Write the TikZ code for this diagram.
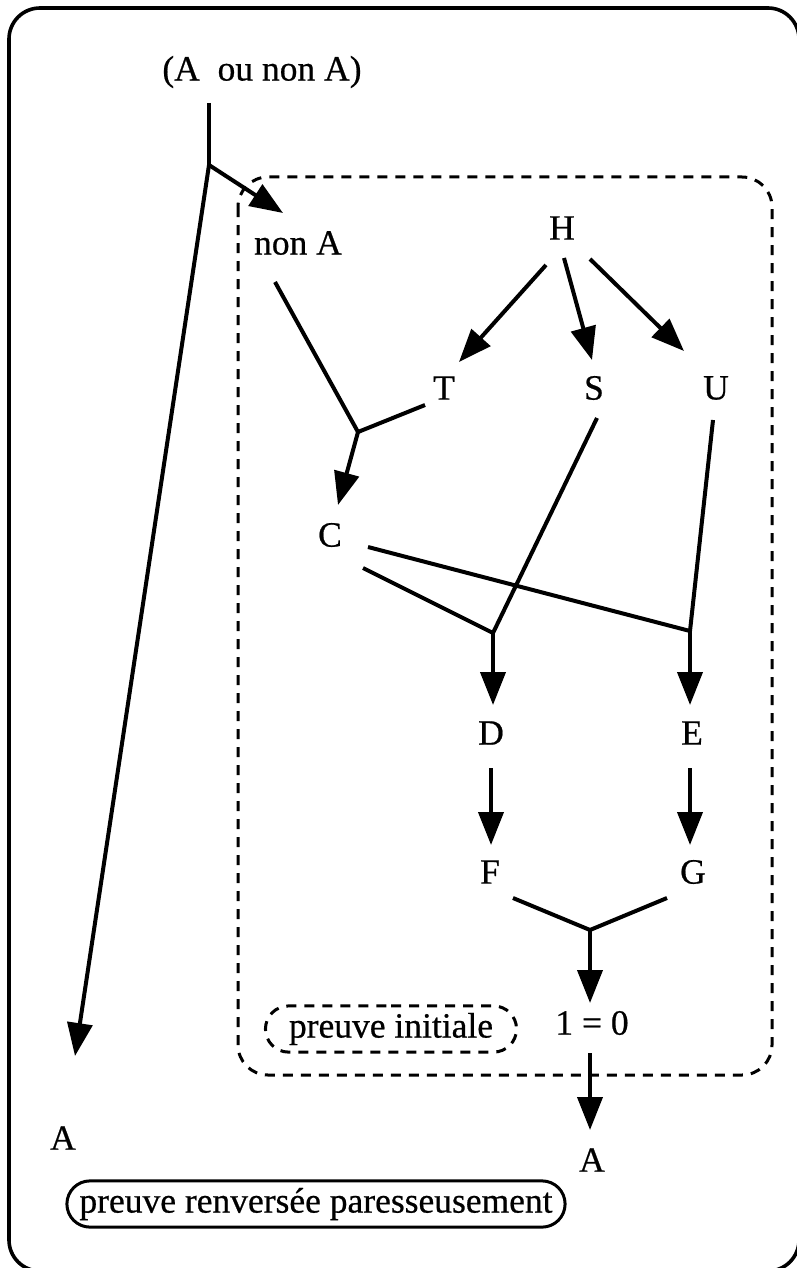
\documentclass[tikz,border=0pt]{standalone}
\usepackage{fontspec}
\setmainfont[FakeBold=0.6]{Liberation Serif}
\usetikzlibrary{arrows.meta,shapes.misc}
\begin{document}
\begin{tikzpicture}[x=1pt,y=-1pt,
  lbl/.style={font=\fontsize{35.5}{38}\selectfont, inner sep=0pt},
  link/.style={line width=4pt, line join=miter},
  arr/.style={link, -{Triangle[length=33pt,width=25pt]}},
  frame/.style={line width=3.6pt, rounded corners=31pt},
  zone/.style={line width=3pt, dash pattern=on 10pt off 8pt, rounded corners=30pt},
  tag/.style={lbl, draw, rounded rectangle, line width=3pt, inner ysep=7pt}]
\useasboundingbox (0,0) rectangle (797,1268);

% outer frame and the dashed zone of the initial proof
\draw[frame] (9,8) rectangle (799,1271);
\draw[zone] (238,177) rectangle (772,1075);

% formulas
\node[lbl] (top)  at (262,72)   {(A\ \ ou non A)};
\node[lbl] (nona) at (298,243)  {non A};
\node[lbl] (h)    at (562,228)  {H};
\node[lbl] (t)    at (444,388)  {T};
\node[lbl] (s)    at (594,388)  {S};
\node[lbl] (u)    at (716,388)  {U};
\node[lbl] (c)    at (330,535)  {C};
\node[lbl] (d)    at (491,733)  {D};
\node[lbl] (e)    at (692,733)  {E};
\node[lbl] (f)    at (490,872)  {F};
\node[lbl] (g)    at (693,872)  {G};
\node[lbl] (one)  at (592,1023) {1 = 0};
\node[lbl] (al)   at (63,1138)  {A};
\node[lbl] (ar)   at (592,1160) {A};

% captions
\node[tag, dash pattern=on 10pt off 8pt, inner xsep=17pt] (ini) at (391,1029) {preuve initiale};
\node[tag, inner xsep=6pt] (rev) at (316,1204) {preuve renvers\'ee paresseusement};

% junctions of the inference steps
\coordinate (j0) at (209,165);
\coordinate (j1) at (358,432);
\coordinate (j2) at (493,633);
\coordinate (j3) at (690,631);
\coordinate (j4) at (590,930);

% case split on (A ou non A)
\draw[link] ([shift={(-53,31)}]top.center) -- (j0);
\draw[arr]  (j0) -- ([shift={(-15,-30)}]nona.center);
\draw[arr]  (j0) -- ([shift={(12,-82)}]al.center);

% H gives T, S and U
\draw[arr] ([shift={(-16,37)}]h.center) -- ([shift={(15,-26)}]t.center);
\draw[arr] ([shift={(2,30)}]h.center)   -- ([shift={(-2,-28)}]s.center);
\draw[arr] ([shift={(28,31)}]h.center)  -- ([shift={(-32,-37)}]u.center);

% non A and T give C
\draw[link] ([shift={(-23,39)}]nona.center) -- (j1);
\draw[link] ([shift={(-19,17)}]t.center) -- (j1);
\draw[arr]  (j1) -- ([shift={(8,-30)}]c.center);

% C with S gives D, C with U gives E
\draw[link] ([shift={(33,33)}]c.center) -- (j2);
\draw[link] ([shift={(3,30)}]s.center) -- (j2);
\draw[arr]  (j2) -- ([shift={(2,-28)}]d.center);
\draw[link] ([shift={(38,12)}]c.center) -- (j3);
\draw[link] ([shift={(-3,32)}]u.center) -- (j3);
\draw[arr]  (j3) -- ([shift={(-2,-28)}]e.center);

% D gives F, E gives G
\draw[arr] ([shift={(0,35)}]d.center) -- ([shift={(1,-27)}]f.center);
\draw[arr] ([shift={(-2,35)}]e.center) -- ([shift={(-3,-27)}]g.center);

% F and G give 1 = 0, which gives A
\draw[link] ([shift={(23,26)}]f.center) -- (j4);
\draw[link] ([shift={(-26,26)}]g.center) -- (j4);
\draw[arr]  (j4) -- ([shift={(-2,-20)}]one.center);
\draw[arr]  ([shift={(-2,30)}]one.center) -- ([shift={(-2,-30)}]ar.center);
\end{tikzpicture}
\end{document}
